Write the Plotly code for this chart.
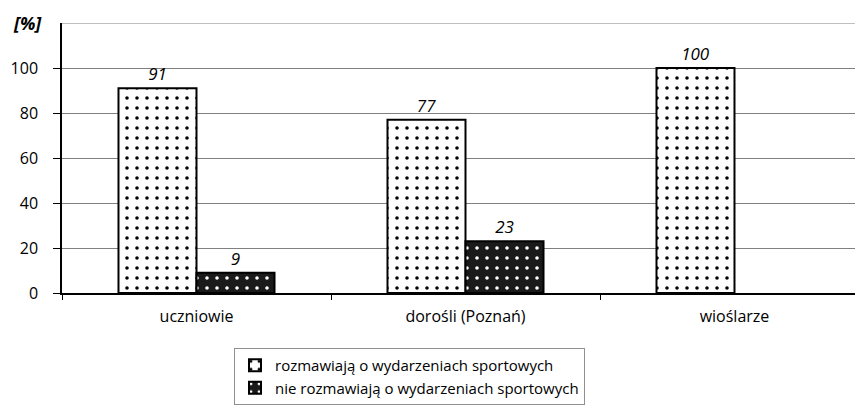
import plotly.graph_objects as go

categories = ["uczniowie", "dorośli (Poznań)", "wioślarze"]
series_names = ["rozmawiają o wydarzeniach sportowych", "nie rozmawiają o wydarzeniach sportowych"]
talk = [91, 77, 100]
no_talk = [9, 23, None]
y_ticks = [0, 20, 40, 60, 80, 100]

FONT = "Open Sans"

fig = go.Figure()
fig.add_trace(go.Bar(
    x=categories, y=talk, name=series_names[0],
    marker=dict(color="white", line=dict(color="black", width=2),
                pattern=dict(shape=".", fgcolor="black", bgcolor="white", size=10, solidity=0.1, fillmode="replace")),
    text=[str(v) for v in talk], textposition="outside",
    textfont=dict(family=FONT, size=17, color="black", style="italic"),
    cliponaxis=False,
))
fig.add_trace(go.Bar(
    x=categories, y=no_talk, name=series_names[1],
    marker=dict(color="black", line=dict(color="black", width=2),
                pattern=dict(shape=".", fgcolor="white", bgcolor="#1a1a1a", size=10, solidity=0.1, fillmode="replace")),
    text=["" if v is None else str(v) for v in no_talk], textposition="outside",
    textfont=dict(family=FONT, size=17, color="black", style="italic"),
    cliponaxis=False,
))

# the page body adds an 8px margin; figure is sized to compensate
fig.update_layout(
    width=855, height=402,
    margin=dict(l=54, r=1, t=15, b=117, autoexpand=False),
    paper_bgcolor="white", plot_bgcolor="white",
    barmode="group", bargap=0.42, bargroupgap=0,
    font=dict(family=FONT, color="black"),
    showlegend=True,
    legend=dict(
        x=0.215, y=-0.204, xanchor="left", yanchor="top",
        bordercolor="#909090", borderwidth=1,
        font=dict(family=FONT, size=15, color="black"),
        tracegroupgap=0,
    ),
    annotations=[dict(
        text="[%]", xref="paper", yref="y", x=0, y=120,
        xanchor="right", yanchor="middle", xshift=-18, showarrow=False,
        font=dict(family=FONT, size=18, color="black", weight="bold", style="italic"),
    )],
)
fig.update_xaxes(
    type="category", range=[-0.5, 2.474], showline=True, linecolor="black", linewidth=1.5,
    ticks="outside", tickson="boundaries", ticklen=5, tickcolor="black",
    tickfont=dict(family=FONT, size=16, color="black"), ticklabelstandoff=8,
    showgrid=False, automargin=False,
)
fig.update_yaxes(
    range=[0, 120], tickvals=y_ticks, ticks="outside", ticklen=7, tickcolor="black",
    showline=True, linecolor="black", linewidth=1.5,
    showgrid=True, gridcolor="#808080", gridwidth=1, zeroline=False,
    tickfont=dict(family=FONT, size=16, color="black"), ticklabelstandoff=12,
    automargin=False,
)
# top gridline at 120
fig.add_shape(type="line", xref="paper", yref="y", x0=0, x1=1, y0=120, y1=120,
              line=dict(color="#808080", width=1), layer="below")

fig.write_html("out.html")
